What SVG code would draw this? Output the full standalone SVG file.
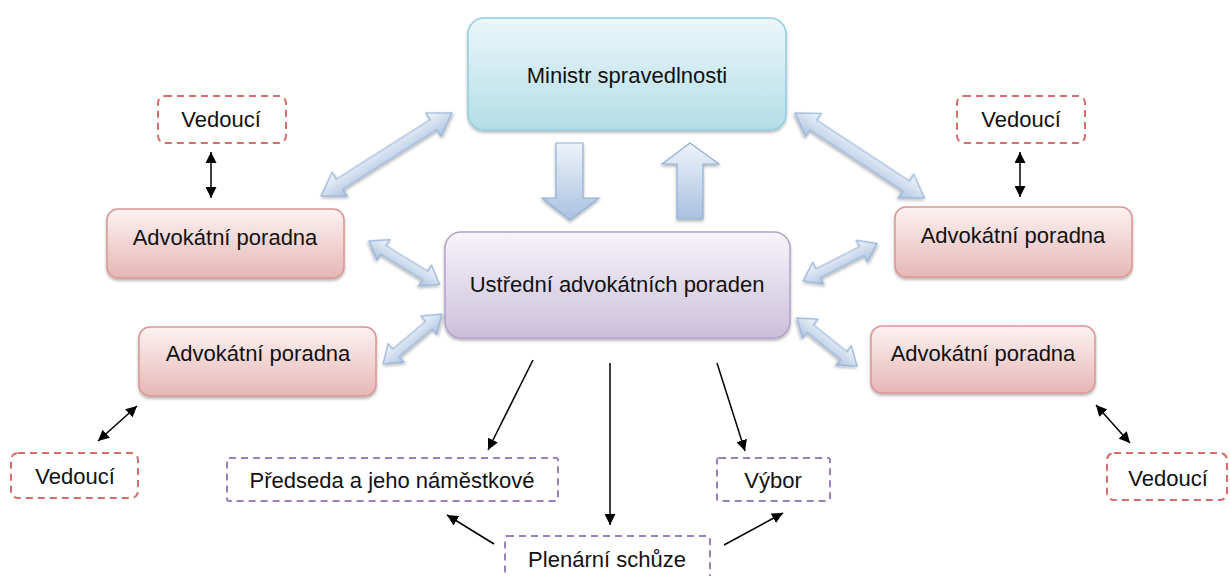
<svg xmlns="http://www.w3.org/2000/svg" width="1230" height="576" viewBox="0 0 1230 576">
<defs>
  <linearGradient id="gMin" x1="0" y1="0" x2="0" y2="1">
    <stop offset="0" stop-color="#eaf7fa"/>
    <stop offset="1" stop-color="#b5dde7"/>
  </linearGradient>
  <linearGradient id="gUst" x1="0" y1="0" x2="0" y2="1">
    <stop offset="0" stop-color="#f7f4fa"/>
    <stop offset="1" stop-color="#cbbfdb"/>
  </linearGradient>
  <linearGradient id="gAp" x1="0" y1="0" x2="0" y2="1">
    <stop offset="0" stop-color="#fdf2f2"/>
    <stop offset="1" stop-color="#e5b7b6"/>
  </linearGradient>
  <linearGradient id="gArr" x1="0" y1="0" x2="0" y2="1">
    <stop offset="0" stop-color="#f4f7fc"/>
    <stop offset="1" stop-color="#adc4e2"/>
  </linearGradient>
  <linearGradient id="gArrV" x1="0" y1="0" x2="0" y2="1">
    <stop offset="0" stop-color="#eef3fa"/>
    <stop offset="1" stop-color="#a9c1e0"/>
  </linearGradient>
  <filter id="sh" x="-10%" y="-10%" width="120%" height="130%">
    <feDropShadow dx="0" dy="2" stdDeviation="1.5" flood-color="#000" flood-opacity="0.3"/>
  </filter>
  <marker id="ah" viewBox="0 0 10 10" refX="10" refY="5" markerWidth="11" markerHeight="11" markerUnits="userSpaceOnUse" orient="auto-start-reverse">
    <path d="M0,0 L10,5 L0,10 Z" fill="#000"/>
  </marker>
  <path id="dblL" d="M0,0 L22,-14 L22,-6 L133,-6 L133,-14 L155,0 L133,14 L133,6 L22,6 L22,14 Z"/>
  <path id="dblS" d="M0,0 L17,-12 L17,-5 L66,-5 L66,-12 L83,0 L66,12 L66,5 L17,5 L17,12 Z"/>
  <path id="dblM" d="M0,0 L17,-12 L17,-5 L60,-5 L60,-12 L77,0 L60,12 L60,5 L17,5 L17,12 Z"/>
</defs>
<style>
  text { font-family: "Liberation Sans", Arial, sans-serif; font-size: 22px; fill: #111; text-anchor: middle; }
  .min { fill: url(#gMin); stroke: #93cddd; stroke-width: 1.5; filter: url(#sh); }
  .ust { fill: url(#gUst); stroke: #b3a2c7; stroke-width: 1.5; filter: url(#sh); }
  .ap { fill: url(#gAp); stroke: #d99694; stroke-width: 1.5; filter: url(#sh); }
  .vd { fill: #fff; stroke: #d46e6c; stroke-width: 2; stroke-dasharray: 7 5; }
  .pu { fill: #fff; stroke: #9b80bd; stroke-width: 2; stroke-dasharray: 7 5; }
  .blk { fill: url(#gArr); stroke: #92b0d6; stroke-width: 1.2; filter: url(#sh); }
  .blkv { fill: url(#gArrV); stroke: #92b0d6; stroke-width: 1.2; filter: url(#sh); }
  .ln { stroke: #000; stroke-width: 1.5; fill: none; }
  .two { marker-start: url(#ah); marker-end: url(#ah); }
  .one { marker-end: url(#ah); }
</style>

<g id="connectors">
  <use href="#dblL" class="blk" transform="translate(321,196) rotate(-32.4)"/>
  <use href="#dblL" class="blk" transform="translate(795,113) rotate(33.3)"/>
  <use href="#dblS" class="blk" transform="translate(369,241) rotate(31.6)"/>
  <use href="#dblM" class="blk" transform="translate(383,364) rotate(-40.3)"/>
  <use href="#dblS" class="blk" transform="translate(803,281) rotate(-26.9)"/>
  <use href="#dblM" class="blk" transform="translate(797,318) rotate(38.7)"/>
  <path class="blkv" d="M556,143 L583,143 L583,198 L599,198 L570,220 L542,198 L556,198 Z"/>
  <path class="blkv" d="M690,143 L719,164 L703,164 L703,219 L677,219 L677,164 L662,164 Z"/>
  <line class="ln two" x1="211" y1="152" x2="211" y2="198"/>
  <line class="ln two" x1="1020" y1="152" x2="1020" y2="197"/>
  <line class="ln two" x1="98" y1="441" x2="137" y2="406"/>
  <line class="ln two" x1="1096" y1="405" x2="1130" y2="443"/>
  <line class="ln one" x1="533" y1="360" x2="488" y2="450"/>
  <line class="ln one" x1="610" y1="363" x2="610" y2="525"/>
  <line class="ln one" x1="717" y1="363" x2="745" y2="451"/>
  <line class="ln one" x1="494" y1="544" x2="447" y2="515"/>
  <line class="ln one" x1="724" y1="545" x2="783" y2="513"/>
</g>

<g id="ministr">
  <rect class="min" x="468" y="18" width="318" height="112" rx="16"/>
  <text x="627" y="83">Ministr spravedlnosti</text>
</g>
<g id="ustredni">
  <rect class="ust" x="445" y="232" width="345" height="106" rx="16"/>
  <text x="617" y="292">Ustřední advokátních poraden</text>
</g>
<g id="ap-tl">
  <rect class="ap" x="107" y="209" width="237" height="69" rx="11"/>
  <text x="225" y="245">Advokátní poradna</text>
</g>
<g id="ap-bl">
  <rect class="ap" x="139" y="327" width="237" height="69" rx="11"/>
  <text x="258" y="361">Advokátní poradna</text>
</g>
<g id="ap-tr">
  <rect class="ap" x="895" y="207" width="237" height="70" rx="11"/>
  <text x="1013" y="243">Advokátní poradna</text>
</g>
<g id="ap-br">
  <rect class="ap" x="871" y="326" width="224" height="67" rx="11"/>
  <text x="983" y="361">Advokátní poradna</text>
</g>
<g id="vedouci-tl">
  <rect class="vd" x="158" y="96" width="128" height="47" rx="7"/>
  <text x="221" y="127">Vedoucí</text>
</g>
<g id="vedouci-tr">
  <rect class="vd" x="957" y="96" width="128" height="47" rx="7"/>
  <text x="1021" y="127">Vedoucí</text>
</g>
<g id="vedouci-bl">
  <rect class="vd" x="11" y="453" width="127" height="45" rx="7"/>
  <text x="75" y="484">Vedoucí</text>
</g>
<g id="vedouci-br">
  <rect class="vd" x="1107" y="453" width="120" height="47" rx="7"/>
  <text x="1168" y="486">Vedoucí</text>
</g>
<g id="predseda">
  <rect class="pu" x="227" y="458" width="331" height="43" rx="2"/>
  <text x="392" y="488">Předseda a jeho náměstkové</text>
</g>
<g id="vybor">
  <rect class="pu" x="717" y="458" width="113" height="43" rx="2"/>
  <text x="773" y="488">Výbor</text>
</g>
<g id="plenarni">
  <rect class="pu" x="505" y="536" width="205" height="50" rx="2"/>
  <text x="607" y="567">Plenární schůze</text>
</g>
</svg>
